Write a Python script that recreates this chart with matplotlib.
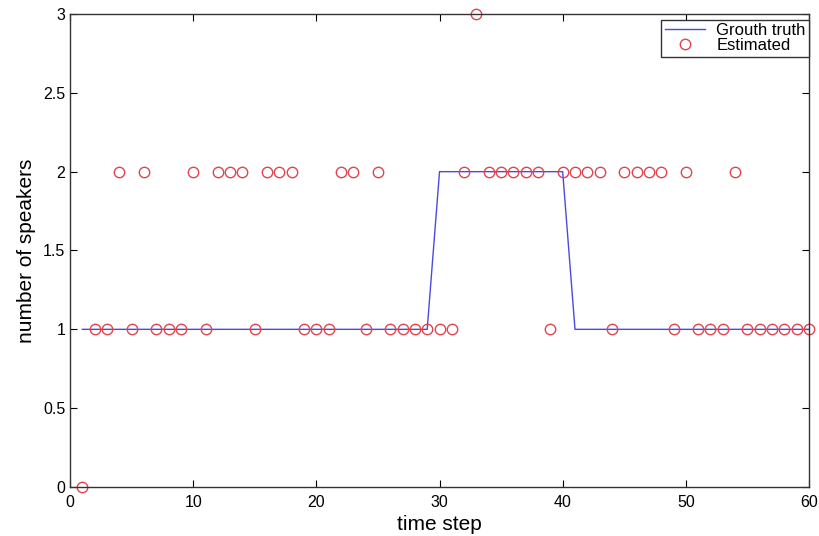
import matplotlib
matplotlib.use("Agg")
import matplotlib.pyplot as plt

# time steps and number of speakers
time_steps = list(range(1, 61))
ground_truth = [1] * 29 + [2] * 11 + [1] * 20
estimated = [0, 1, 1, 2, 1, 2, 1, 1, 1, 2,
             1, 2, 2, 2, 1, 2, 2, 2, 1, 1,
             1, 2, 2, 1, 2, 1, 1, 1, 1, 1,
             1, 2, 3, 2, 2, 2, 2, 2, 1, 2,
             2, 2, 2, 1, 2, 2, 2, 2, 1, 2,
             1, 1, 1, 2, 1, 1, 1, 1, 1, 1]
x_ticks = [0, 10, 20, 30, 40, 50, 60]
y_ticks = [0, 0.5, 1, 1.5, 2, 2.5, 3]
y_tick_labels = ["0", "0.5", "1", "1.5", "2", "2.5", "3"]

plt.rcParams['font.family'] = ['Liberation Sans', 'DejaVu Sans']

fig = plt.figure(figsize=(8.19, 5.36), dpi=100)
ax = fig.add_axes([0.0855, 0.0914, 0.9023, 0.8825])

ax.plot(time_steps, ground_truth, color='#4a4ae0', linewidth=1.0, label='Grouth truth')
ax.plot(time_steps, estimated, linestyle='none', marker='o', markersize=7.5,
        markerfacecolor='none', markeredgecolor='#e0454f', markeredgewidth=1.0,
        label='Estimated', clip_on=False)

ax.set_xlim(0, 60)
ax.set_ylim(0, 3)
ax.set_xticks(x_ticks)
ax.set_yticks(y_ticks)
ax.set_yticklabels(y_tick_labels)
ax.tick_params(direction='in', length=5, labelsize=11.5, top=True, right=True, width=0.8)
ax.tick_params(axis='x', pad=6)
for spine in ax.spines.values():
    spine.set_linewidth(1.0)
    spine.set_color('#333333')

ax.set_xlabel('time step', fontsize=15, labelpad=3)
ax.set_ylabel('number of speakers', fontsize=15, labelpad=5)

leg = ax.legend(loc='upper right', bbox_to_anchor=(1.0, 1 - 6 / 473), fontsize=12,
                fancybox=False, framealpha=1, edgecolor='#333333', borderpad=0.2,
                labelspacing=0.0, handlelength=2.4, handletextpad=0.7,
                borderaxespad=0)
leg.get_frame().set_linewidth(1.0)

fig.savefig('out.png', dpi=100)
